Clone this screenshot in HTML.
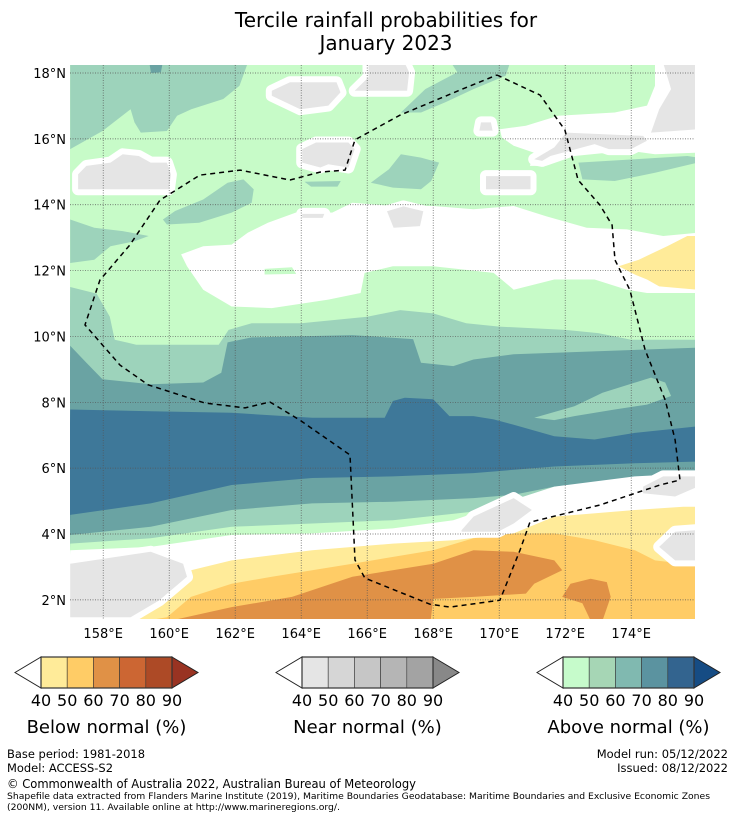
<!DOCTYPE html>
<html><head><meta charset="utf-8"><style>
html,body{margin:0;padding:0;background:#fff;}
svg{display:block;font-family:"DejaVu Sans","Liberation Sans",sans-serif;}
</style></head><body>
<svg id="chart" width="736" height="816" viewBox="0 0 736 816" xmlns="http://www.w3.org/2000/svg">
<defs><clipPath id="mapclip"><rect x="70" y="65" width="625" height="554"/></clipPath></defs>
<text x="386" y="27" font-size="20" text-anchor="middle">Tercile rainfall probabilities for</text>
<text x="386" y="50" font-size="20" text-anchor="middle">January 2023</text>
<g id="map" clip-path="url(#mapclip)"></g>
<g id="axes" font-size="13"></g>
<g id="legends"></g>
<g font-size="11.5">
<text x="7" y="758" textLength="138" lengthAdjust="spacingAndGlyphs">Base period: 1981-2018</text>
<text x="7" y="772" textLength="106" lengthAdjust="spacingAndGlyphs">Model: ACCESS-S2</text>
<text x="728" y="758" text-anchor="end">Model run: 05/12/2022</text>
<text x="728" y="772" text-anchor="end">Issued: 08/12/2022</text>
<text x="7" y="788" font-size="12.5" textLength="409" lengthAdjust="spacingAndGlyphs">© Commonwealth of Australia 2022, Australian Bureau of Meteorology</text>
<text x="7" y="799" font-size="9" textLength="703" lengthAdjust="spacingAndGlyphs">Shapefile data extracted from Flanders Marine Institute (2019), Maritime Boundaries Geodatabase: Maritime Boundaries and Exclusive Economic Zones</text>
<text x="7" y="810" font-size="9" textLength="333" lengthAdjust="spacingAndGlyphs">(200NM), version 11. Available online at http://www.marineregions.org/.</text>
</g>
</svg>
<script>
// ---- axis extents ----
const lonTicks = [158,160,162,164,166,168,170,172,174];
const latTicks = [2,4,6,8,10,12,14,16,18];
const legendLabels = ["40","50","60","70","80","90"];

// ---- probability band edges (lon, lat), painted north to south ----
const edgeGreen2 = [[157,11.5],[157.8,11.3],[158.2,10.6],[158.35,9.9],[159,9.75],[161.5,9.75],[161.8,10.2],[162.5,10.4],[164,10.4],[165,10.5],[166,10.6],[167,10.8],[168,10.7],[169,10.4],[170,10.3],[172,10.2],[173,10.1],[174,9.9],[176,9.9]];
const edgeGreen3 = [[157,9.72],[157.49,9.2],[157.98,8.7],[159.44,8.55],[161.03,8.6],[161.58,8.9],[161.77,9.82],[162.5,9.97],[165.55,10.04],[167.39,9.92],[167.63,9.2],[168.61,9.1],[169.22,9.3],[170.44,9.46],[176.02,9.66]];
const edgeGreen4 = [[157,7.78],[159.44,7.73],[161.89,7.68],[164.33,7.53],[166.53,7.53],[166.78,8.04],[167.14,8.14],[168,8.09],[168.49,7.58],[169.22,7.58],[169.83,7.48],[170.44,7.32],[171.67,6.97],[172.89,6.87],[174.11,7.07],[176.02,7.27]];
const edgeGreen3b = [[157,4.58],[159.44,4.93],[161.89,5.49],[164.33,5.7],[166.78,5.75],[169.22,5.85],[171.67,6.05],[174.11,6.15],[176.02,6.2]];
const edgeGreen2b = [[157,3.97],[159.44,4.22],[161.89,4.73],[164.33,4.93],[166.78,4.98],[169.22,5.09],[170.44,5.19],[171.67,5.44],[174.11,5.65],[176.02,5.75]];
const edgeGreen1b = [[157,3.71],[159.44,3.87],[161.89,4.22],[164.33,4.32],[166.78,4.42],[169.22,4.68],[170.44,4.93],[172.89,5.44],[176.02,5.59]];
const edgeWhite = [[157,3.51],[159.44,3.61],[161.89,3.97],[164.33,4.02],[166.78,4.17],[168.61,4.42],[170.44,5.04],[171.67,5.44],[174.11,5.75],[176.02,5.85]];
const edgeYellow = [[157,1.47],[158.22,1.73],[159.44,2.09],[160.66,2.9],[161.89,3.2],[164.33,3.51],[166.78,3.71],[168.61,3.81],[170.44,4.02],[171.67,4.53],[174.11,4.73],[175.58,4.83],[176.02,4.83]];
const edgeOrange = [[157,1.0],[159.93,1.47],[160.66,2.09],[161.89,2.49],[163.11,2.7],[165.55,3.1],[168,3.51],[169.22,3.87],[170.44,4.02],[171.67,4.02],[172.89,3.81],[174.11,3.51],[174.72,3.2],[176.02,3.05]];

// ---- blobs (lon, lat) ----
const blobGreen2TopLeft = [[157,15.69],[157.98,16.24],[158.83,16.9],[158.95,16.5],[159.14,16.19],[159.93,16.24],[160.24,16.7],[160.67,16.9],[161.64,17.21],[162.13,17.61],[162.38,18.3],[157,18.3]];
const blobGreen2TopMid = [[168.55,18.3],[170.32,18.3],[170.2,17.92],[169.22,17.51],[168.37,17.11],[167.63,16.8],[167.02,16.8],[167.76,17.51],[168.73,18.02]];
const blobGreen3Top = [[159.4,18.3],[159.8,18.3],[159.75,18.02],[159.45,18.0]];
const blobGreen2Right = [[172.4,15.28],[174.11,15.38],[175.7,15.48],[176.02,15.43],[176.02,15.28],[174.72,14.97],[173.5,14.72],[172.52,14.77]];
const blobGreen2Mid = [[166.11,14.67],[166.66,15.08],[167.02,15.53],[167.63,15.43],[168.18,15.28],[167.94,14.72],[167.63,14.47],[166.78,14.52]];
const blobGreen2Small = [[164.1,14.7],[165.2,14.72],[165.1,14.55],[164.3,14.55]];
const blobGreen2Center = [[159.81,13.55],[160.18,13.81],[161.03,14.16],[161.77,14.67],[162.25,14.77],[162.56,14.47],[162.5,14.06],[161.89,13.76],[160.91,13.45],[159.93,13.4]];
const blobGreen2Left = [[157,13.55],[157.73,13.3],[158.59,13.2],[159.38,13.05],[158.95,12.89],[158.22,12.74],[157.73,12.33],[157,12.23]];
const blobWhiteBand = [[160.36,12.49],[161.03,12.74],[161.89,12.79],[162.38,13.15],[162.99,13.45],[163.97,13.81],[164.94,13.76],[165.55,14.06],[166.78,13.96],[168,13.96],[169.22,13.86],[170.44,13.96],[171.42,13.65],[172.65,13.3],[173.87,13.25],[174.97,13.05],[176.02,13.15],[176.02,11.32],[174.48,11.32],[173.87,11.42],[172.89,11.73],[171.67,11.73],[170.44,11.42],[169.83,11.93],[168,12.13],[166.78,12.13],[165.92,11.93],[165.8,11.32],[164.82,11.12],[163.11,10.86],[161.89,10.91],[161.03,11.42],[160.54,12.13]];
const blobGreen1InWhite = [[162.89,12.05],[163.72,12.1],[163.85,11.9],[162.89,11.88]];
const blobWhiteTopRight = [[174.72,18.3],[176.02,18.3],[176.02,15.58],[174.72,15.53],[173.99,15.63],[173.26,15.58],[172.28,15.48],[171.42,15.18],[170.93,15.18],[171.06,15.58],[170.44,15.79],[170.08,16.04],[170.02,16.29],[170.81,16.4],[171.79,16.7],[173.5,16.8],[174.48,17.01],[174.72,17.61]];
const blobYellowRight = [[173.62,12.13],[174.23,12.33],[175.09,12.74],[175.7,13.05],[176.02,13.05],[176.02,11.42],[174.85,11.52],[174.48,11.73],[174.11,11.88]];
const blobGreen2Lower = [[171.06,7.53],[172.28,7.88],[173.13,8.29],[174.6,8.75],[175.03,8.6],[175.21,8.19],[174.48,7.93],[173.5,7.78],[172.28,7.58],[171.67,7.46]];
const blobOrange2Main = [[160.05,1.0],[160.05,1.37],[161.89,1.78],[163.72,2.09],[165.55,2.7],[168,3.1],[169.22,3.51],[170.44,3.46],[171.67,3.2],[171.91,2.9],[171.06,2.49],[170.81,2.19],[169.22,2.09],[168,2.03],[167.88,1.0]];
const blobOrange2Right = [[171.91,2.09],[172.16,2.49],[172.77,2.64],[173.26,2.54],[173.38,2.09],[173.13,1.37],[172.77,1.37],[172.52,1.9]];
const greyBlobs = [
  [[163.11,17.46],[163.66,17.72],[165.07,17.72],[165.19,17.41],[164.82,17.01],[163.97,16.9],[163.11,17.31]],
  [[166.04,18.3],[167.14,18.3],[167.27,18.02],[167.21,17.46],[165.62,17.46],[166.04,17.87]],
  [[157.24,14.92],[157.49,15.18],[158.22,15.28],[158.59,15.53],[159.08,15.48],[159.44,15.28],[159.93,15.28],[160.05,14.92],[159.99,14.47],[157.24,14.47]],
  [[164.03,15.69],[164.45,15.89],[165.43,15.89],[165.62,15.69],[165.43,15.13],[164.82,15.23],[164.58,15.13],[164.03,15.28]],
  [[169.6,14.87],[170.95,14.87],[170.95,14.47],[169.6,14.47]],
  [[169.45,16.5],[169.75,16.5],[169.8,16.25],[169.4,16.25]],
  [[171.06,15.38],[171.67,15.74],[172.03,16.19],[174.36,16.09],[174.48,15.94],[173.99,15.69],[173.32,15.69],[172.89,15.84],[171.55,15.48],[171.3,15.33]],
  [[174.97,18.3],[176.02,18.3],[176.02,16.29],[174.6,16.19],[174.85,16.9],[175.21,17.51]],
  [[166.6,13.8],[167.1,13.95],[167.7,13.8],[167.6,13.35],[166.8,13.3]],
  [[164.03,13.72],[164.7,13.72],[164.65,13.6],[164.03,13.6]],
  [[157,3.1],[159.44,3.46],[160.42,3.1],[160.54,2.7],[159.69,1.98],[158.83,1.47],[157,1.47]],
  [[168.86,4.12],[169.22,4.53],[170.44,5.09],[170.99,4.73],[170.44,4.32],[169.96,4.07],[168.86,4.07]],
  [[174.36,5.44],[174.97,5.75],[176.02,5.75],[176.02,5.44],[175.33,5.14],[174.36,5.24]],
  [[174.85,3.61],[175.33,4.07],[176.02,4.12],[176.02,3.2],[175.33,3.2]]
];
const eezLine = [[169.93,17.94],[171.24,17.33],[171.99,16.27],[172.39,14.75],[173.05,13.99],[173.42,13.38],[173.51,12.32],[173.96,11.41],[174.42,9.59],[175.03,8.07],[175.33,6.86],[175.48,5.64],[174.87,5.49],[173.05,4.88],[170.93,4.36],[170.63,3.51],[170.02,1.99],[168.51,1.78],[167.9,1.87],[165.93,2.66],[165.63,3.21],[165.48,6.4],[163.96,7.46],[163.05,8.01],[162.3,7.83],[161.08,7.98],[159.36,8.53],[158.51,9.13],[157.45,10.35],[157.9,11.71],[158.81,12.78],[159.72,14.14],[160.93,14.9],[162.15,15.05],[163.66,14.75],[164.57,14.99],[165.33,15.05],[165.63,15.97],[166.99,16.72],[168.81,17.48],[169.93,17.94]];

// ---- axis functions ----
function x(lon){ return 103.2 + (lon-158)*33.0; }
function y(lat){ return 73 + (18-lat)*32.93; }

const NS="http://www.w3.org/2000/svg";
const map=document.getElementById('map');
const C={g1:"#c7fbc8",g2:"#9dd3bb",g3:"#6aa3a3",g4:"#3e7899",y1:"#ffeb99",o1:"#ffcc66",o2:"#e09146",grey:"#e5e5e5",white:"#ffffff"};
function pts(arr){ return arr.map(p=>x(p[0]).toFixed(1)+","+y(p[1]).toFixed(1)).join(" "); }
function poly(arr,fill,name,stroke,sw){
  const p=document.createElementNS(NS,'polygon');
  p.setAttribute('points',pts(arr));
  p.setAttribute('fill',fill);
  if(stroke){p.setAttribute('stroke',stroke);p.setAttribute('stroke-width',sw);p.setAttribute('stroke-linejoin','round');}
  
  
  map.appendChild(p); return p;
}
function band(edge,fill,name){
  const a=edge.concat([[176.1,1.0],[156.9,1.0]]);
  return poly(a,fill,name);
}
poly([[156.9,18.4],[176.1,18.4],[176.1,1.0],[156.9,1.0]],C.g1,'above-normal-40-base');
poly(blobWhiteTopRight,C.white,'white-region-top-right');
poly(blobGreen2TopLeft,C.g2,'above-normal-50-top-left');
poly(blobGreen3Top,C.g3,'above-normal-60-top');
poly(blobGreen2TopMid,C.g2,'above-normal-50-top-mid');
poly(blobGreen2Right,C.g2,'above-normal-50-right');
poly(blobGreen2Mid,C.g2,'above-normal-50-mid');
poly(blobGreen2Small,C.g2,'above-normal-50-small');
poly(blobGreen2Center,C.g2,'above-normal-50-center');
poly(blobGreen2Left,C.g2,'above-normal-50-left');
poly(blobWhiteBand,C.white,'white-band-12n');
poly(blobGreen1InWhite,C.g1,'above-normal-40-patch');
poly(blobYellowRight,C.y1,'below-normal-40-right');
band(edgeGreen2,C.g2,'above-normal-50-band');
band(edgeGreen3,C.g3,'above-normal-60-band');
poly(blobGreen2Lower,C.g2,'above-normal-50-patch');
band(edgeGreen4,C.g4,'above-normal-70-band');
band(edgeGreen3b,C.g3,'above-normal-60-band-south');
band(edgeGreen2b,C.g2,'above-normal-50-band-south');
band(edgeGreen1b,C.g1,'above-normal-40-band-south');
band(edgeWhite,C.white,'white-band-4n');
band(edgeYellow,C.y1,'below-normal-40-band');
band(edgeOrange,C.o1,'below-normal-50-band');
poly(blobOrange2Main,C.o2,'below-normal-60-main');
poly(blobOrange2Right,C.o2,'below-normal-60-right');
greyBlobs.forEach((b,i)=>{
  poly(b,C.white,'near-normal-halo-'+i,C.white,12);
});
greyBlobs.forEach((b,i)=>{
  poly(b,C.grey,'near-normal-40-'+i);
});
lonTicks.forEach(l=>{
  const ln=document.createElementNS(NS,'line');
  ln.setAttribute('x1',x(l));ln.setAttribute('x2',x(l));ln.setAttribute('y1',65);ln.setAttribute('y2',619);
  ln.setAttribute('stroke','#555');ln.setAttribute('stroke-width','0.7');ln.setAttribute('stroke-dasharray','1,1.5');
  
  
  map.appendChild(ln);
});
latTicks.forEach(l=>{
  const ln=document.createElementNS(NS,'line');
  ln.setAttribute('y1',y(l));ln.setAttribute('y2',y(l));ln.setAttribute('x1',70);ln.setAttribute('x2',695);
  ln.setAttribute('stroke','#555');ln.setAttribute('stroke-width','0.7');ln.setAttribute('stroke-dasharray','1,1.5');
  
  
  map.appendChild(ln);
});
const eez=document.createElementNS(NS,'polyline');
eez.setAttribute('points',pts(eezLine));
eez.setAttribute('fill','none');eez.setAttribute('stroke','#000');eez.setAttribute('stroke-width','1.5');eez.setAttribute('stroke-dasharray','5,4');


map.appendChild(eez);

const axes=document.getElementById('axes');
lonTicks.forEach(l=>{
  const t=document.createElementNS(NS,'text');
  t.setAttribute('x',x(l));t.setAttribute('y',638);t.setAttribute('text-anchor','middle');
  t.textContent=l+"°E";
  
  
  axes.appendChild(t);
});
latTicks.forEach(l=>{
  const t=document.createElementNS(NS,'text');
  t.setAttribute('x',66);t.setAttribute('y',y(l)+5);t.setAttribute('text-anchor','end');
  t.textContent=l+"°N";
  
  
  axes.appendChild(t);
});

const legends=document.getElementById('legends');
const legendDefs=[
 {x0:15,title:"Below normal (%)",cols:["#ffeb99","#ffcc66","#e09146","#cc6633","#ad4a26"],tip:"#993322",name:"below-normal-legend"},
 {x0:276,title:"Near normal (%)",cols:["#e5e5e5","#d6d6d6","#c6c6c6","#b5b5b5","#a3a3a3"],tip:"#888888",name:"near-normal-legend"},
 {x0:537,title:"Above normal (%)",cols:["#c6fbcb","#a6d6b5","#80b9b0","#5b93a0","#33648f"],tip:"#164c84",name:"above-normal-legend"}
];
legendDefs.forEach(d=>{
  const g=document.createElementNS(NS,'g');
  
  
  const top=657,bot=688,mid=672.5,bx=d.x0+26,w=26.2;
  const lt=document.createElementNS(NS,'polygon');
  lt.setAttribute('points',`${d.x0},${mid} ${bx},${top} ${bx},${bot}`);
  lt.setAttribute('fill','#fff');lt.setAttribute('stroke','#222');lt.setAttribute('stroke-width','1');
  g.appendChild(lt);
  d.cols.forEach((c,i)=>{
    const r=document.createElementNS(NS,'rect');
    r.setAttribute('x',bx+i*w);r.setAttribute('y',top);r.setAttribute('width',w);r.setAttribute('height',bot-top);
    r.setAttribute('fill',c);r.setAttribute('stroke','#333');r.setAttribute('stroke-width','0.6');
    
    
    g.appendChild(r);
  });
  const ex=bx+5*w;
  const rt=document.createElementNS(NS,'polygon');
  rt.setAttribute('points',`${ex},${top} ${ex+26},${mid} ${ex},${bot}`);
  rt.setAttribute('fill',d.tip);rt.setAttribute('stroke','#222');rt.setAttribute('stroke-width','1');
  g.appendChild(rt);
  const fr=document.createElementNS(NS,'rect');
  fr.setAttribute('x',bx);fr.setAttribute('y',top);fr.setAttribute('width',5*w);fr.setAttribute('height',bot-top);
  fr.setAttribute('fill','none');fr.setAttribute('stroke','#333');fr.setAttribute('stroke-width','1.2');
  g.appendChild(fr);
  legendLabels.forEach((lab,i)=>{
    const t=document.createElementNS(NS,'text');
    t.setAttribute('x',bx+i*w);t.setAttribute('y',706);t.setAttribute('text-anchor','middle');t.setAttribute('font-size','16');
    t.textContent=lab;
    
    
    g.appendChild(t);
  });
  const tt=document.createElementNS(NS,'text');
  tt.setAttribute('x',bx+2.5*w);tt.setAttribute('y',733);tt.setAttribute('text-anchor','middle');tt.setAttribute('font-size','18');
  tt.textContent=d.title;
  
  
  g.appendChild(tt);
  legends.appendChild(g);
});
</script>
</body></html>
